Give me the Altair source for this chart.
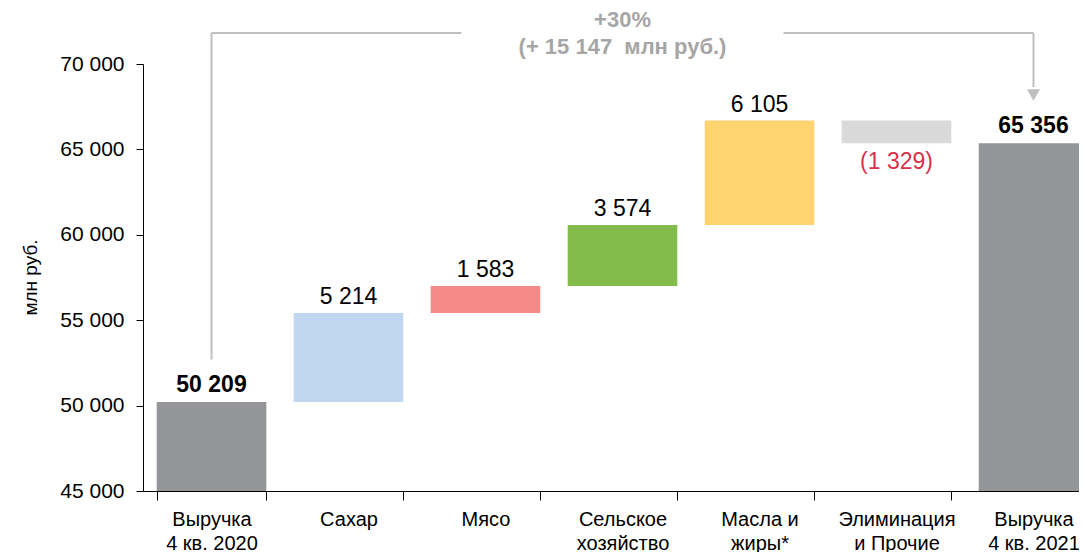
import altair as alt
import pandas as pd

categories = ["Выручка\n4 кв. 2020", "Сахар", "Мясо", "Сельское\nхозяйство",
              "Масла и\nжиры*", "Элиминация\nи Прочие", "Выручка\n4 кв. 2021"]
values = [50209, 5214, 1583, 3574, 6105, -1329, 65356]
is_total = [True, False, False, False, False, False, True]
value_labels = ["50 209", "5 214", "1 583", "3 574", "6 105", "(1 329)", "65 356"]
bar_colors = ["#939598", "#C1D6EF", "#F48B89", "#84BC4B", "#FFD470", "#D9D9D9", "#939598"]
NEG_COLOR = "#D9304A"

y_ticks = [45000, 50000, 55000, 60000, 65000, 70000]
y_domain = [45000, 70000]

growth_pct = "+30%"
growth_abs = "(+ 15 147\u00a0 млн руб.)"

# waterfall geometry from values
rows = []
running = 0
for cat, v, tot, lab in zip(categories, values, is_total, value_labels):
    if tot:
        start, end = y_domain[0], v
        running = v
    else:
        start, end = running, running + v
        running = end
    rows.append(dict(cat=cat, start=start, end=end, top=max(start, end), bottom=min(start, end),
                     label=lab, total=tot, neg=v < 0))
df = pd.DataFrame(rows)

FONT = "Liberation Sans"

# band range runs past the visible right edge, as in the reference (last bar is cut)
x_enc = alt.X("cat:N", sort=categories,
              scale=alt.Scale(domain=categories, paddingInner=0.2, paddingOuter=0.1, range=[0, 959]),
              axis=alt.Axis(title=None, labelAngle=0, labelFontSize=20, labelColor="#000000",
                            labelFont=FONT, labelExpr="split(datum.label, '\\n')",
                            labelLineHeight=24, labelPadding=9, tickSize=9, tickColor="#000000",
                            domainColor="#000000", tickBand="extent", labelLimit=200))
y_scale = alt.Scale(domain=y_domain, nice=False, zero=False)

bars = alt.Chart(df).mark_bar().encode(
    x=x_enc,
    y=alt.Y("start:Q", scale=y_scale,
            axis=alt.Axis(values=y_ticks, grid=False, tickSize=7, tickColor="#000000",
                          domainColor="#000000", labelFontSize=21, labelFont=FONT,
                          labelColor="#000000", labelPadding=12,
                          labelExpr="replace(format(datum.value, ','), ',', ' ')",
                          title="млн руб.", titleFont=FONT, titleFontSize=19,
                          titleFontWeight="normal", titleColor="#000000",
                          titleX=-113, titleY=213, titleAngle=-90, titleBaseline="middle",
                          titleAlign="center")),
    y2="end:Q",
    color=alt.Color("cat:N", scale=alt.Scale(domain=categories, range=bar_colors), legend=None),
)

total_labels = alt.Chart(df[df["total"]]).mark_text(
    baseline="bottom", dy=-5, fontSize=23, font=FONT, fontWeight="bold", color="#000000").encode(
    x=alt.X("cat:N", sort=categories), y=alt.Y("top:Q"), text="label:N")
pos_labels = alt.Chart(df[(~df["total"]) & (~df["neg"])]).mark_text(
    baseline="bottom", dy=-4, fontSize=23, font=FONT, color="#000000").encode(
    x=alt.X("cat:N", sort=categories), y=alt.Y("top:Q"), text="label:N")
neg_labels = alt.Chart(df[df["neg"]]).mark_text(
    baseline="top", dy=8, fontSize=23, font=FONT, color=NEG_COLOR).encode(
    x=alt.X("cat:N", sort=categories), y=alt.Y("bottom:Q"), text="label:N")

# bracket annotation
bracket_y = 71815
left_start_y = 52700
arrow_end_y = 68650
arrow_tip_y = 68185
mid_cat = categories[3]

ann_v = pd.DataFrame([
    dict(cat=categories[0], y=left_start_y, y2=bracket_y),
    dict(cat=categories[6], y=bracket_y, y2=arrow_end_y),
])
GREY = "#BFBFBF"
vlines = alt.Chart(ann_v).mark_rule(color=GREY, strokeWidth=2).encode(
    x=alt.X("cat:N", sort=categories), y="y:Q", y2="y2:Q")

hl = alt.Chart(pd.DataFrame([dict(a=categories[0], b=mid_cat, y=bracket_y)])).mark_rule(
    color=GREY, strokeWidth=2, x2Offset=-161).encode(
    x=alt.X("a:N", sort=categories), x2="b:N", y="y:Q")
hr = alt.Chart(pd.DataFrame([dict(a=mid_cat, b=categories[6], y=bracket_y)])).mark_rule(
    color=GREY, strokeWidth=2, xOffset=161).encode(
    x=alt.X("a:N", sort=categories), x2="b:N", y="y:Q")

arrow = alt.Chart(pd.DataFrame([dict(cat=categories[6], y=arrow_tip_y)])).mark_point(
    shape="triangle-down", filled=True, color=GREY, size=170, opacity=1).encode(
    x=alt.X("cat:N", sort=categories), y="y:Q")

ann_text = alt.Chart(pd.DataFrame([
    dict(cat=mid_cat, y=72560, t=growth_pct),
    dict(cat=mid_cat, y=71000, t=growth_abs),
])).mark_text(fontSize=22, fontWeight="bold", color="#A6A6A6", font=FONT, baseline="middle").encode(
    x=alt.X("cat:N", sort=categories), y="y:Q", text="t:N")

chart = alt.layer(bars, total_labels, pos_labels, neg_labels, vlines, hl, hr, arrow, ann_text).properties(
    width=936, height=427,
    autosize=alt.AutoSizeParams(type="none"),
    padding={"left": 135, "top": 56, "right": 0, "bottom": 61},
    background="#FFFFFF",
).configure_view(stroke=None)

chart.save("out.html", embed_options={"renderer": "svg", "actions": False})
